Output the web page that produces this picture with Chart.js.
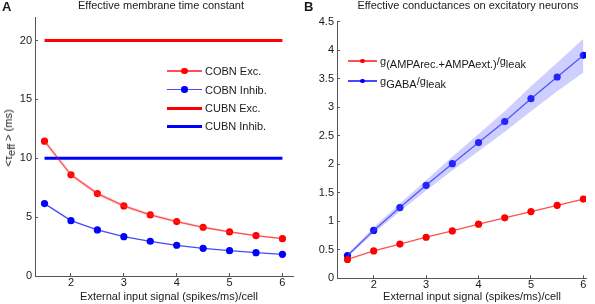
<!DOCTYPE html>
<html><head><meta charset="utf-8">
<script src="https://cdn.jsdelivr.net/npm/chart.js@4/dist/chart.umd.min.js"></script>
<style>
body{margin:0;width:595px;height:304px;position:relative;background:#fff;font-family:"Liberation Sans",Arial,sans-serif;overflow:hidden;color:#1a1a1a}
canvas{position:absolute;top:0}
.t{position:absolute;font-size:11px;line-height:12px;white-space:nowrap}
.ctr{transform:translateX(-50%)}
.lg-line{position:absolute}
.lg-dot{position:absolute;border-radius:50%}
sub{font-size:11px;vertical-align:-3px;line-height:0}
</style></head><body>
<canvas id="ca" width="297" height="304" style="left:0"></canvas>
<canvas id="cb" width="298" height="304" style="left:297px"></canvas>

<div class="t" style="left:2px;top:0px;font-weight:bold;font-size:13px;line-height:14px">A</div>
<div class="t" style="left:304px;top:0px;font-weight:bold;font-size:13px;line-height:14px">B</div>
<div class="t ctr" style="left:161px;top:-1px">Effective membrane time constant</div>
<div class="t ctr" style="left:468px;top:-1px">Effective conductances on excitatory neurons</div>
<div class="t ctr" style="left:169px;top:290px">External input signal (spikes/ms)/cell</div>
<div class="t ctr" style="left:472px;top:290px">External input signal (spikes/ms)/cell</div>
<div class="t" style="left:8px;top:137.5px;transform:translate(-50%,-50%) rotate(-90deg)">&lt;τ<sub>eff</sub> &gt; (ms)</div>

<div id="legA"></div>
<div id="legB"></div>

<script>
// ---------- data ----------
const xVals = [1.5, 2, 2.5, 3, 3.5, 4, 4.5, 5, 5.5, 6];
const xTicks = [2, 3, 4, 5, 6];
const yTicksA = [0, 5, 10, 15, 20];
const yTicksB = [0, 0.5, 1, 1.5, 2, 2.5, 3, 3.5, 4, 4.5];

const cobnExc   = [11.45, 8.59, 7.00, 5.95, 5.19, 4.62, 4.14, 3.74, 3.43, 3.17];
const cobnExcLo = [11.25, 8.40, 6.83, 5.80, 5.05, 4.50, 4.03, 3.65, 3.35, 3.09];
const cobnExcHi = [11.65, 8.78, 7.17, 6.10, 5.33, 4.74, 4.25, 3.83, 3.51, 3.25];
const cobnInh   = [6.15, 4.70, 3.91, 3.34, 2.95, 2.61, 2.35, 2.15, 1.98, 1.84];
const cubnX     = [1.5, 6];
const cubnExc   = [20, 20];
const cubnInh   = [10, 10];

const gAmpa   = [0.33, 0.48, 0.60, 0.72, 0.83, 0.95, 1.06, 1.17, 1.28, 1.39];
const gGaba   = [0.40, 0.84, 1.24, 1.63, 2.01, 2.38, 2.75, 3.15, 3.53, 3.91];
const gGabaLo = [0.37, 0.79, 1.17, 1.54, 1.89, 2.23, 2.57, 2.93, 3.28, 3.61];
const gGabaHi = [0.43, 0.89, 1.31, 1.72, 2.13, 2.53, 2.93, 3.37, 3.78, 4.20];

const legendA = ['COBN Exc.', 'COBN Inhib.', 'CUBN Exc.', 'CUBN Inhib.'];

// ---------- helpers ----------
const pts = (xs, ys) => xs.map((x, i) => ({x: x, y: ys[i]}));
Chart.defaults.font.family = '"Liberation Sans", Arial, sans-serif';
Chart.defaults.font.size = 11;
Chart.defaults.color = '#1a1a1a';

function axis(min, max, ticks, fixW, fixH, isX) {
  return {
    type: 'linear', min: min, max: max,
    grid: {display: true, drawOnChartArea: false, drawTicks: true, tickLength: -3, color: '#555'},
    border: {display: true, color: '#555', width: 1},
    ticks: {padding: isX ? 3 : 6, color: '#1a1a1a', font: {size: 11}, callback: v => String(v)},
    afterBuildTicks: s => { s.ticks = ticks.map(v => ({value: v})); },
    afterFit: s => { if (isX) s.height = fixH; else s.width = fixW; }
  };
}

const RED = '#ff0000', REDL = '#ff5050', BLUE = '#0000ff', BLUEL = '#4848ff';

new Chart(document.getElementById('ca'), {
  type: 'line',
  data: {datasets: [
    {data: pts(xVals, cobnExcLo), borderWidth: 0, pointRadius: 0, fill: false},
    {data: pts(xVals, cobnExcHi), borderWidth: 0, pointRadius: 0, fill: '-1', backgroundColor: 'rgba(255,80,80,0.22)'},
    {data: pts(cubnX, cubnExc), borderColor: RED, borderWidth: 3, pointRadius: 0},
    {data: pts(cubnX, cubnInh), borderColor: BLUE, borderWidth: 3, pointRadius: 0},
    {data: pts(xVals, cobnExc), borderColor: REDL, borderWidth: 1.3, pointRadius: 3.6, pointBackgroundColor: RED, pointBorderColor: RED, pointBorderWidth: 0},
    {data: pts(xVals, cobnInh), borderColor: BLUEL, borderWidth: 1.3, pointRadius: 3.6, pointBackgroundColor: BLUE, pointBorderColor: BLUE, pointBorderWidth: 0}
  ]},
  options: {
    responsive: false, animation: false,
    layout: {padding: {top: 17, right: 4, left: 0, bottom: 0}},
    plugins: {legend: {display: false}, tooltip: {enabled: false}},
    scales: {
      x: axis(1.32, 6.2, xTicks, 0, 28, true),
      y: axis(0, 22, yTicksA, 35, 0, false)
    }
  }
});

new Chart(document.getElementById('cb'), {
  type: 'line',
  data: {datasets: [
    {data: pts(xVals, gGabaLo), borderWidth: 0, pointRadius: 0, fill: false},
    {data: pts(xVals, gGabaHi), borderWidth: 0, pointRadius: 0, fill: '-1', backgroundColor: 'rgba(110,110,255,0.33)'},
    {data: pts(xVals, gAmpa), borderColor: REDL, borderWidth: 1.3, pointRadius: 3.6, pointBackgroundColor: RED, pointBorderColor: RED, pointBorderWidth: 0},
    {data: pts(xVals, gGaba), borderColor: BLUEL, borderWidth: 1.3, pointRadius: 3.6, pointBackgroundColor: BLUE, pointBorderColor: BLUE, pointBorderWidth: 0}
  ]},
  options: {
    responsive: false, animation: false,
    layout: {padding: {top: 21.7, right: 9, left: 0, bottom: 0}},
    plugins: {legend: {display: false}, tooltip: {enabled: false}},
    scales: {
      x: axis(1.30, 6.05, xTicks, 0, 25.7, true),
      y: axis(0, 4.5, yTicksB, 40, 0, false)
    }
  }
});

// ---------- HTML legends ----------
function legItem(host, x0, x1, y, lineColor, lineW, dotColor, dotR, html) {
  const l = document.createElement('div');
  l.className = 'lg-line';
  l.style.cssText = `left:${x0}px;width:${x1 - x0}px;top:${y - lineW / 2}px;height:${lineW}px;background:${lineColor}`;
  host.appendChild(l);
  if (dotR) {
    const d = document.createElement('div');
    d.className = 'lg-dot';
    const cx = (x0 + x1) / 2;
    d.style.cssText = `left:${cx - dotR}px;top:${y - dotR}px;width:${dotR * 2}px;height:${dotR * 2}px;background:${dotColor}`;
    host.appendChild(d);
  }
  const t = document.createElement('div');
  t.className = 't';
  t.style.left = (x1 + 3) + 'px';
  t.style.top = (y - 6) + 'px';
  t.innerHTML = html;
  host.appendChild(t);
}
const la = document.getElementById('legA');
legItem(la, 167, 202, 71, REDL, 1.3, RED, 3.3, legendA[0]);
legItem(la, 167, 202, 89.5, BLUEL, 1.3, BLUE, 3.3, legendA[1]);
legItem(la, 167, 202, 108, RED, 3, null, 0, legendA[2]);
legItem(la, 167, 202, 126, BLUE, 3, null, 0, legendA[3]);
const lb = document.getElementById('legB');
legItem(lb, 348, 377, 61, REDL, 2, RED, 2.2, 'g<sub>(AMPArec.+AMPAext.)</sub>/g<sub>leak</sub>');
legItem(lb, 348, 377, 81, BLUEL, 1.3, BLUE, 2.2, 'g<sub>GABA</sub>/g<sub>leak</sub>');
</script>
</body></html>
